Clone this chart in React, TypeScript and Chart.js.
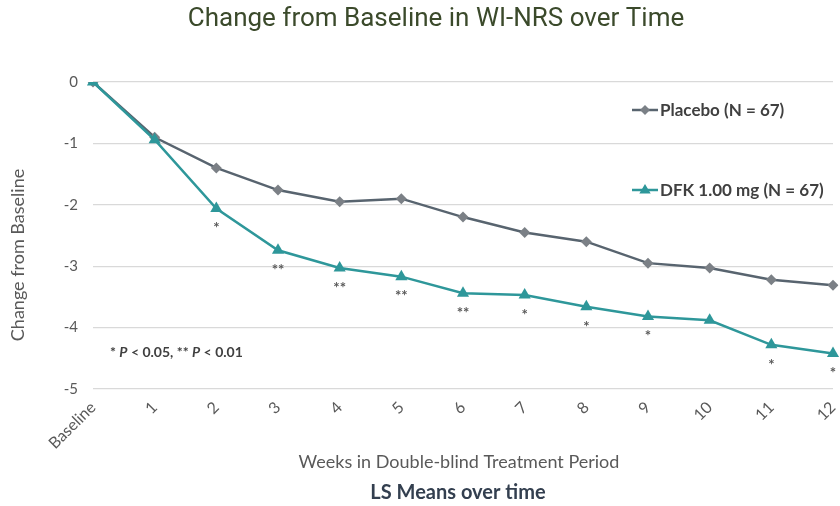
import React, { useEffect, useRef } from "react";
import { Chart, registerables } from "chart.js";

Chart.register(...registerables);

const categories = ["Baseline", "1", "2", "3", "4", "5", "6", "7", "8", "9", "10", "11", "12"];
const placeboValues = [0, -0.9, -1.4, -1.76, -1.95, -1.9, -2.2, -2.45, -2.6, -2.95, -3.03, -3.22, -3.31];
const dfkValues = [0, -0.94, -2.06, -2.74, -3.03, -3.17, -3.44, -3.47, -3.66, -3.82, -3.88, -4.28, -4.42];
const dfkSignificance = ["", "", "*", "**", "**", "**", "**", "*", "*", "*", "", "*", "*"];
const placeboLabel = "Placebo (N = 67)";
const dfkLabel = "DFK 1.00 mg (N = 67)";
const titleText = "Change from Baseline in WI-NRS over Time";
const xTitleText = "Weeks in Double-blind Treatment Period";
const yTitleText = "Change from Baseline";
const subtitleText = "LS Means over time";

const PLACEBO_LINE = "#58646f";
const PLACEBO_MARK = "#7b8086";
const DFK_COLOR = "#2e979a";
const TEXT_GRAY = "#595959";
const FONT = "Lato, 'Open Sans', sans-serif";

function drawDiamond(ctx: CanvasRenderingContext2D, x: number, y: number, r: number) {
  ctx.beginPath();
  ctx.moveTo(x, y - r);
  ctx.lineTo(x + r, y);
  ctx.lineTo(x, y + r);
  ctx.lineTo(x - r, y);
  ctx.closePath();
  ctx.fill();
}
function drawTriangle(ctx: CanvasRenderingContext2D, x: number, y: number, r: number) {
  ctx.beginPath();
  ctx.moveTo(x, y - r);
  ctx.lineTo(x + r * 0.95, y + r * 0.6);
  ctx.lineTo(x - r * 0.95, y + r * 0.6);
  ctx.closePath();
  ctx.fill();
}

const annotationPlugin = {
  id: "annotations",
  afterDraw(chart: any) {
    const ctx: CanvasRenderingContext2D = chart.ctx;
    ctx.save();
    // Title
    ctx.fillStyle = "#3b4a2b";
    ctx.font = "26px Roboto, sans-serif";
    ctx.textAlign = "center";
    ctx.textBaseline = "middle";
    ctx.fillText(titleText, 436, 19);

    // x title
    ctx.fillStyle = TEXT_GRAY;
    ctx.font = `18px ${FONT}`;
    ctx.fillText(xTitleText, 459, 462);

    // subtitle
    ctx.fillStyle = "#333f4f";
    ctx.font = `bold 20px ${FONT}`;
    ctx.fillText(subtitleText, 458, 493);

    // y title
    ctx.save();
    ctx.translate(18, 255);
    ctx.rotate(-Math.PI / 2);
    ctx.fillStyle = TEXT_GRAY;
    ctx.font = `18px ${FONT}`;
    ctx.fillText(yTitleText, 0, 0);
    ctx.restore();

    // significance stars
    const meta = chart.getDatasetMeta(0);
    ctx.fillStyle = TEXT_GRAY;
    ctx.font = `bold 15px ${FONT}`;
    meta.data.forEach((pt: any, i: number) => {
      const s = dfkSignificance[i];
      if (s) ctx.fillText(s, pt.x, pt.y + 20);
    });

    // footnote
    ctx.textAlign = "left";
    ctx.fillStyle = "#404040";
    let fx = 110;
    const fy = 352;
    const parts: [string, boolean][] = [["* ", false], ["P", true], [" < 0.05, ** ", false], ["P", true], [" < 0.01", false]];
    parts.forEach(([t, it]) => {
      ctx.font = `${it ? "italic " : ""}bold 14px ${FONT}`;
      ctx.fillText(t, fx, fy);
      fx += ctx.measureText(t).width;
    });

    // legend
    const legends = [
      { label: placeboLabel, y: 110, line: PLACEBO_LINE, mark: PLACEBO_MARK, shape: "diamond" },
      { label: dfkLabel, y: 190, line: DFK_COLOR, mark: DFK_COLOR, shape: "triangle" },
    ];
    legends.forEach((l) => {
      ctx.strokeStyle = l.line;
      ctx.lineWidth = 2.5;
      ctx.beginPath();
      ctx.moveTo(632, l.y);
      ctx.lineTo(658, l.y);
      ctx.stroke();
      ctx.fillStyle = l.mark;
      if (l.shape === "diamond") drawDiamond(ctx, 645, l.y, 5);
      else drawTriangle(ctx, 645, l.y, 6);
      ctx.fillStyle = "#404040";
      ctx.font = `bold 17px ${FONT}`;
      ctx.textAlign = "left";
      ctx.fillText(l.label, 660, l.y + 1);
    });
    ctx.restore();
  },
};

export default function App() {
  const ref = useRef<HTMLCanvasElement>(null);
  useEffect(() => {
    document.body.style.margin = "0";
    const chart = new Chart(ref.current as HTMLCanvasElement, {
      type: "line",
      data: {
        labels: categories,
        datasets: [
          {
            label: dfkLabel,
            data: dfkValues,
            borderColor: DFK_COLOR,
            backgroundColor: DFK_COLOR,
            borderWidth: 2.5,
            pointStyle: "triangle",
            pointRadius: 7,
            pointBorderWidth: 0,
            pointBackgroundColor: DFK_COLOR,
            tension: 0,
          },
          {
            label: placeboLabel,
            data: placeboValues,
            borderColor: PLACEBO_LINE,
            backgroundColor: PLACEBO_MARK,
            borderWidth: 2.5,
            pointStyle: "rectRot",
            pointRadius: 5.5,
            pointBorderWidth: 0,
            pointBackgroundColor: PLACEBO_MARK,
            tension: 0,
          },
        ],
      },
      options: {
        animation: false,
        responsive: false,
        maintainAspectRatio: false,
        layout: { padding: { top: 82, right: 6, left: 0, bottom: 0 } },
        plugins: { legend: { display: false }, title: { display: false }, tooltip: { enabled: false } },
        scales: {
          x: {
            offset: false,
            grid: { display: false, drawTicks: false },
            border: { display: false },
            ticks: {
              minRotation: 45,
              maxRotation: 45,
              padding: 9,
              color: TEXT_GRAY,
              font: { family: FONT, size: 16 },
            },
            afterFit(scale: any) {
              scale.height = 117;
              scale.paddingLeft = 0;
              scale.paddingRight = 0;
            },
          },
          y: {
            min: -5,
            max: 0,
            grid: { color: "#d9d9d9", lineWidth: 1.3, drawTicks: false },
            border: { display: false },
            ticks: {
              stepSize: 1,
              padding: 15,
              color: TEXT_GRAY,
              font: { family: FONT, size: 15 },
            },
            afterFit(scale: any) {
              scale.width = 93;
              scale.paddingTop = 0;
              scale.paddingBottom = 0;
            },
          },
        },
      },
      plugins: [annotationPlugin],
    });
    return () => chart.destroy();
  }, []);
  return <canvas ref={ref} width={840} height={506} style={{ display: "block" }} />;
}
